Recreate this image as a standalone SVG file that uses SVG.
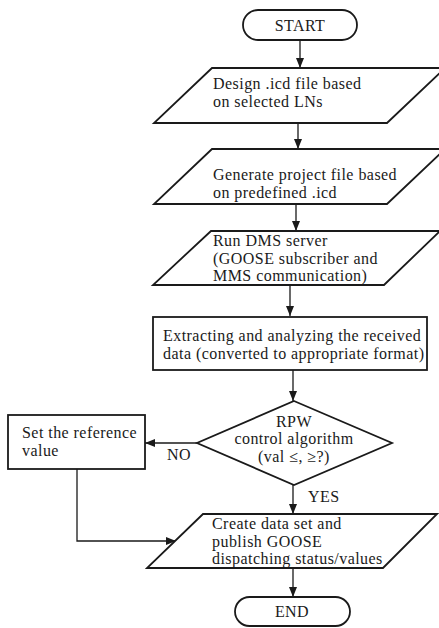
<svg xmlns="http://www.w3.org/2000/svg" width="439" height="628" viewBox="0 0 439 628" font-family="'Liberation Serif', 'Times New Roman', serif" font-size="16">
<style>
.s{fill:#fff;stroke:#1a1a1a;stroke-width:1.8}
.c{fill:none;stroke:#1a1a1a;stroke-width:1.3}
text{font-family:"Liberation Serif","Times New Roman",serif;font-size:16px;letter-spacing:0.45px;fill:#1a1a1a}
.m{text-anchor:middle}
</style>
<defs>
<marker id="ah" markerUnits="userSpaceOnUse" markerWidth="10" markerHeight="10" viewBox="0 0 10 10" refX="10" refY="5" orient="auto">
<path d="M0,1 L10,5 L0,9 Z" fill="#1a1a1a"/>
</marker>
</defs>
<rect width="439" height="628" fill="#fff"/>
<g id="connectors">
<line class="c" x1="300" y1="40" x2="300" y2="68" marker-end="url(#ah)"/>
<line class="c" x1="298" y1="123" x2="298" y2="149" marker-end="url(#ah)"/>
<line class="c" x1="296" y1="204" x2="296" y2="231" marker-end="url(#ah)"/>
<line class="c" x1="290" y1="285" x2="290" y2="316" marker-end="url(#ah)"/>
<line class="c" x1="293" y1="370" x2="293" y2="401" marker-end="url(#ah)"/>
<line class="c" x1="197" y1="443" x2="145" y2="443" marker-end="url(#ah)"/>
<line class="c" x1="293" y1="485" x2="293" y2="514" marker-end="url(#ah)"/>
<polyline class="c" points="77,469 77,541 176,541" marker-end="url(#ah)"/>
<line class="c" x1="293" y1="568" x2="293" y2="597" marker-end="url(#ah)"/>
<text x="167" y="460">NO</text>
<text x="308" y="502">YES</text>
</g>
<g id="start">
<rect class="s" x="243" y="10" width="114" height="30" rx="15"/>
<text class="m" x="300" y="31">START</text>
</g>
<g id="design">
<polygon class="s" points="212,68 445,68 387,123 154,123"/>
<text x="213" y="89">Design .icd file based</text>
<text x="213" y="106.5">on selected LNs</text>
</g>
<g id="generate">
<polygon class="s" points="212,149 445,149 387,204 154,204"/>
<text x="213" y="180">Generate project file based</text>
<text x="213" y="197.5">on predefined .icd</text>
</g>
<g id="dms">
<polygon class="s" points="211,231 440,231 384,285 153,285"/>
<text x="213" y="246">Run DMS server</text>
<text x="213" y="263.5">(GOOSE subscriber and</text>
<text x="213" y="281">MMS communication)</text>
</g>
<g id="extract">
<rect class="s" x="153" y="317" width="274" height="53"/>
<text x="163" y="341">Extracting and analyzing the received</text>
<text x="163" y="359">data (converted to appropriate format)</text>
</g>
<g id="decision">
<polygon class="s" points="294,401 392,443 294,485 197,443"/>
<text class="m" x="294" y="426.5">RPW</text>
<text class="m" x="294" y="444">control algorithm</text>
<text class="m" x="294" y="461.5">(val ≤, ≥?)</text>
</g>
<g id="setref">
<rect class="s" x="8" y="415" width="137" height="54"/>
<text x="22" y="438">Set the reference</text>
<text x="22" y="455.5">value</text>
</g>
<g id="publish">
<polygon class="s" points="203,514 437,514 383,568 147,568"/>
<text x="212" y="529">Create data set and</text>
<text x="212" y="546.5">publish GOOSE</text>
<text x="212" y="564">dispatching status/values</text>
</g>
<g id="end">
<rect class="s" x="235" y="597" width="115" height="29" rx="14.5"/>
<text class="m" x="292" y="617">END</text>
</g>
</svg>
